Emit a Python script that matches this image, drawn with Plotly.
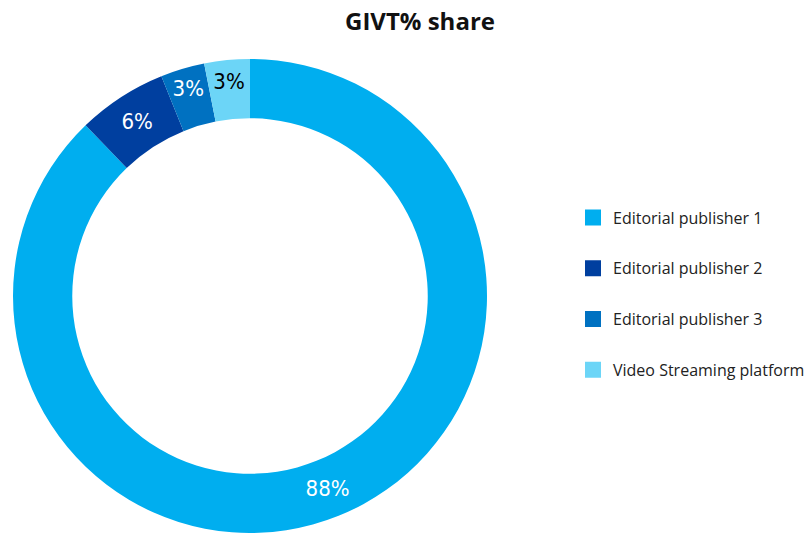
import plotly.graph_objects as go

labels = ["Editorial publisher 1", "Editorial publisher 2", "Editorial publisher 3", "Video Streaming platform"]
values = [87.8, 6.1, 3.0, 3.1]
colors = ["#00aeef", "#003f9f", "#0071c1", "#6cd5f7"]
text_colors = ["white", "white", "white", "black"]

fig = go.Figure()
fig.add_trace(go.Pie(
    labels=labels, values=values, hole=0.75, sort=False, direction="clockwise", rotation=0,
    marker=dict(colors=colors, line=dict(width=0)),
    texttemplate="%{percent:.0%}", textposition="inside", insidetextorientation="horizontal",
    textfont=dict(family="DejaVu Sans Condensed, Open Sans", size=22, color=text_colors),
    showlegend=False, domain=dict(x=[13/806, 487/806], y=[0, 474/533]),
))
for i, (lab, col) in enumerate(zip(labels, colors)):
    fig.add_trace(go.Scatter(
        x=[None], y=[None], mode="markers", name=lab, legendgroup=f"g{i}",
        marker=dict(symbol="square", size=18, color=col),
    ))

fig.update_layout(
    width=806, height=533, margin=dict(l=0, r=0, t=0, b=0, autoexpand=False),
    paper_bgcolor="white", plot_bgcolor="white",
    xaxis=dict(visible=False), yaxis=dict(visible=False),
    title=dict(text="<b>GIVT% share</b>", x=420/806, xanchor="center", y=1-22/533, yanchor="middle",
               font=dict(family="Open Sans", size=24, color="#111")),
    legend=dict(x=573/806, xanchor="left", y=1-294/533, yanchor="middle",
                font=dict(family="Open Sans", size=16, color="#222"),
                traceorder="grouped", tracegroupgap=27, itemclick=False),
)
fig.write_html("out.html")
